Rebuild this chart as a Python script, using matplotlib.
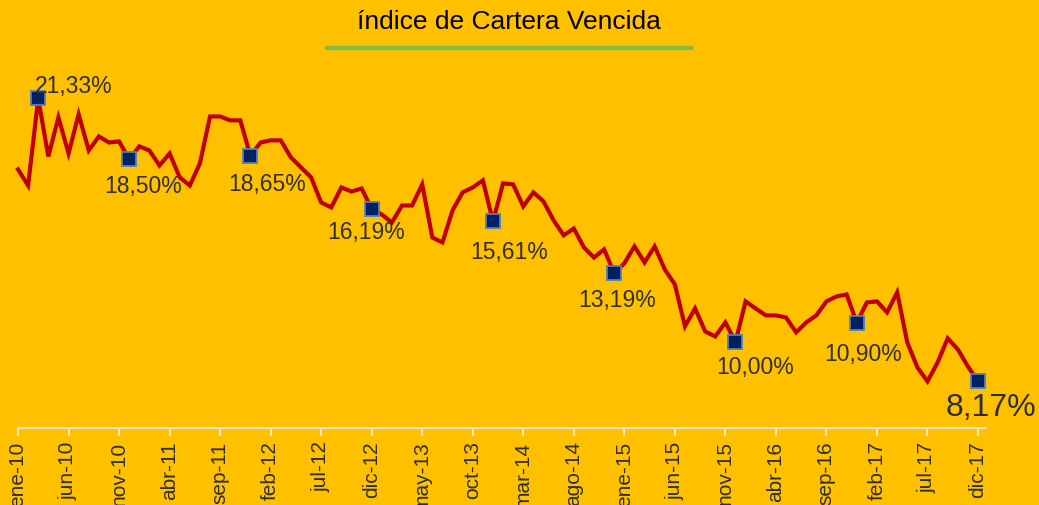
import matplotlib.pyplot as plt

# Monthly portfolio delinquency index (%), ene-10 .. dic-17
months = ['ene', 'feb', 'mar', 'abr', 'may', 'jun', 'jul', 'ago', 'sep', 'oct', 'nov', 'dic']
fechas = [f"{m}-{y}" for y in range(10, 18) for m in months]

valores = [18.03, 17.28, 21.33, 18.63, 20.45, 18.77, 20.59, 18.91, 19.56, 19.28, 19.33, 18.50,
           19.10, 18.91, 18.21, 18.77, 17.66, 17.28, 18.31, 20.49, 20.49, 20.31, 20.31, 18.65,
           19.28, 19.38, 19.38, 18.59, 18.12, 17.66, 16.49, 16.26, 17.19, 17.00, 17.14, 16.19,
           15.93, 15.56, 16.35, 16.35, 17.33, 14.86, 14.63, 16.12, 16.96, 17.19, 17.52, 15.61,
           17.38, 17.33, 16.31, 16.96, 16.54, 15.66, 14.96, 15.28, 14.40, 13.93, 14.31, 13.19,
           13.66, 14.45, 13.70, 14.45, 13.38, 12.68, 10.73, 11.56, 10.49, 10.26, 10.91, 10.00,
           11.89, 11.56, 11.24, 11.24, 11.14, 10.45, 10.91, 11.24, 11.89, 12.12, 12.21, 10.90,
           11.84, 11.89, 11.38, 12.31, 9.98, 8.82, 8.17, 9.05, 10.17, 9.66, 8.86, 8.17]

# highlighted points (index into the series) and their label offsets in pixels
destacados = [2, 11, 23, 35, 47, 59, 71, 83, 95]
offsets = [(35, 13), (14, -26), (17, -27), (-6, -23), (16, -30),
           (3, -26), (20, -25), (6, -31), (13, -26)]

bg = '#FFC000'
fig = plt.figure(figsize=(10.39, 5.06), dpi=100, facecolor=bg)
ax = fig.add_axes([18 / 1039, 77 / 506, 960 / 1039, 369 / 506], facecolor=bg)

x = list(range(len(valores)))
ax.plot(x, valores, color='#C00000', linewidth=3, solid_joinstyle='miter', clip_on=False)
ax.plot(destacados, [valores[i] for i in destacados], linestyle='none', marker='s',
        markersize=10, markerfacecolor='#002060', markeredgecolor='#4F81BD',
        markeredgewidth=1.3, clip_on=False, zorder=3)

for i, off in zip(destacados, offsets):
    size = 23 if i == len(valores) - 1 else 16.5
    ax.annotate(f"{valores[i]:.2f}%".replace('.', ','), (i, valores[i]),
                xytext=off, textcoords='offset pixels', ha='center', va='center',
                fontsize=size, color='#2E2E2E', family='Liberation Sans')

ax.set_xlim(0, 95)
ax.set_ylim(6, 6 + 369 / 21.5)
ax.set_xticks(x[::5])
ax.set_xticklabels(fechas[::5], rotation=90, fontsize=15,
                   color='#2E2E2E', family='Liberation Sans')
ax.set_yticks([])
for s in ['top', 'right', 'left']:
    ax.spines[s].set_visible(False)
ax.spines['bottom'].set_color('#EFE6CC')
ax.spines['bottom'].set_linewidth(1.5)
ax.spines['bottom'].set_bounds(0, 95.8)
ax.tick_params(axis='x', direction='out', length=6, width=1.5, color='#EFE6CC', pad=3)

fig.text(509 / 1039, 1 - 22 / 506, 'índice de Cartera Vencida', ha='center', va='center',
         fontsize=19, color='black', family='Liberation Sans')
fig.add_artist(plt.Line2D([327 / 1039, 691 / 1039], [1 - 49 / 506, 1 - 49 / 506],
                          color='#7BBE4A', linewidth=3))

fig.savefig('out.png', dpi=100, facecolor=bg)
